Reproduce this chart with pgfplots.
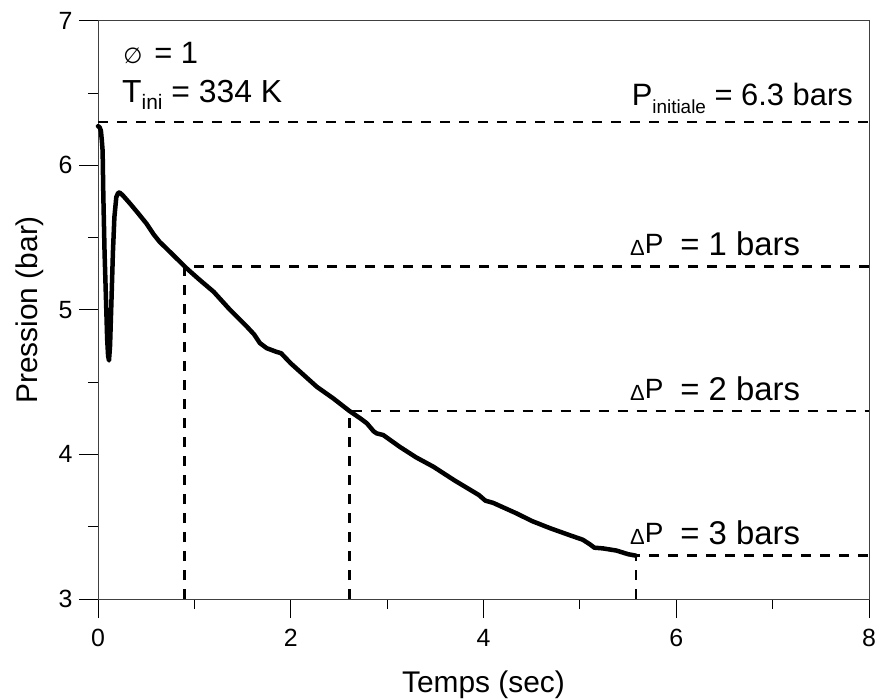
\documentclass[border=0pt]{standalone}
\usepackage{pgfplots}
\pgfplotsset{compat=1.18}
\usepackage{fontspec}
\setmainfont{Liberation Sans}
\newfontfamily\djv{DejaVu Sans}

% pressure trace
\pgfplotstableread{
t p
0 6.27
0.015 6.265
0.03 6.24
0.04 6.17
0.048 6.10
0.055 5.80
0.068 5.40
0.083 5.07
0.095 4.80
0.105 4.68
0.114 4.65
0.125 4.75
0.14 5.07
0.155 5.40
0.17 5.64
0.19 5.78
0.21 5.81
0.228 5.81
0.26 5.79
0.33 5.737
0.42 5.665
0.505 5.595
0.58 5.52
0.64 5.47
0.71 5.425
0.815 5.356
0.92 5.287
1.05 5.21
1.2 5.125
1.37 5.00
1.55 4.88
1.62 4.83
1.68 4.77
1.75 4.735
1.85 4.71
1.9 4.70
2.0 4.63
2.27 4.468
2.44 4.388
2.61 4.30
2.72 4.25
2.79 4.215
2.86 4.16
2.89 4.146
2.96 4.134
3.13 4.053
3.3 3.98
3.48 3.915
3.7 3.82
3.9 3.74
3.95 3.72
4.02 3.68
4.1 3.665
4.34 3.593
4.5 3.54
4.69 3.49
4.9 3.44
5.03 3.41
5.1 3.38
5.15 3.355
5.24 3.35
5.38 3.335
5.5 3.31
5.58 3.30
}\pressure

\newcommand{\dP}{{\fontsize{22}{22}\selectfont Δ}\raisebox{2bp}{\fontsize{28}{28}\selectfont P}\hspace{17bp}}

\begin{document}
\begin{tikzpicture}
\path[use as bounding box] (-98bp,-101bp) rectangle (779bp,599bp);
\begin{axis}[
    at={(0,0)}, anchor=south west,
    scale only axis,
    width=771bp, height=578.3bp,
    xmin=0, xmax=8, ymin=3, ymax=7,
    xtick={0,2,4,6,8}, ytick={3,4,5,6,7},
    minor x tick num=1, minor y tick num=1,
    xtick pos=bottom, ytick pos=left,
    tick align=outside,
    major tick length=19bp, minor tick length=10bp,
    every tick/.style={black, line width=0.8bp},
    axis line style={line width=0.8bp, black!75},
    xticklabel={\pgfmathprintnumber[assume math mode=true]{\tick}},
    yticklabel={\pgfmathprintnumber[assume math mode=true]{\tick}},
    xticklabel style={font=\fontsize{25}{30}\selectfont, yshift=-8bp},
    yticklabel style={font=\fontsize{25}{30}\selectfont, xshift=-3bp},
    label style={font=\fontsize{30}{36}\selectfont},
    xlabel={Temps (sec)}, ylabel={Pression (bar)},
    xlabel style={at={(rel axis cs:0.5,0)}, anchor=base, yshift=-93bp},
    ylabel style={at={(rel axis cs:0,0.5)}, anchor=base, yshift=60bp},
    clip=false,
    dashline/.style={black, line width=2.5bp, dash pattern=on 10bp off 9bp},
  ]
  \addplot[dashline] coordinates {(0,6.3) (8,6.3)};
  \addplot[dashline] coordinates {(0.9,3) (0.9,5.3) (8,5.3)};
  \addplot[dashline] coordinates {(2.61,3) (2.61,4.3) (8,4.3)};
  \addplot[dashline] coordinates {(5.58,3) (5.58,3.3) (8,3.3)};
  \addplot[black, line width=4.5bp, line join=round, line cap=round] table[x=t, y=p] {\pressure};

  \node[anchor=base west, inner sep=0, font=\fontsize{31}{36}\selectfont] at (axis cs:0.26,6.707)
    {{\djv\fontsize{22}{22}\selectfont ∅}\hspace{12bp}= 1};
  \node[anchor=base west, inner sep=0, font=\fontsize{32}{36}\selectfont] at (axis cs:0.249,6.437)
    {T\raisebox{-7bp}{\fontsize{21}{21}\selectfont ini} = 334 K};
  \node[anchor=base east, inner sep=0, font=\fontsize{31}{36}\selectfont] at (axis cs:7.834,6.416)
    {P\raisebox{-8bp}{\fontsize{19}{19}\selectfont initiale} = 6.3 bars};
  \node[anchor=base west, inner sep=0, font=\fontsize{33}{36}\selectfont] at (axis cs:5.52,5.379)
    {\dP= 1 bars};
  \node[anchor=base west, inner sep=0, font=\fontsize{33}{36}\selectfont] at (axis cs:5.52,4.376)
    {\dP= 2 bars};
  \node[anchor=base west, inner sep=0, font=\fontsize{33}{36}\selectfont] at (axis cs:5.52,3.380)
    {\dP= 3 bars};
\end{axis}
\end{tikzpicture}
\end{document}
